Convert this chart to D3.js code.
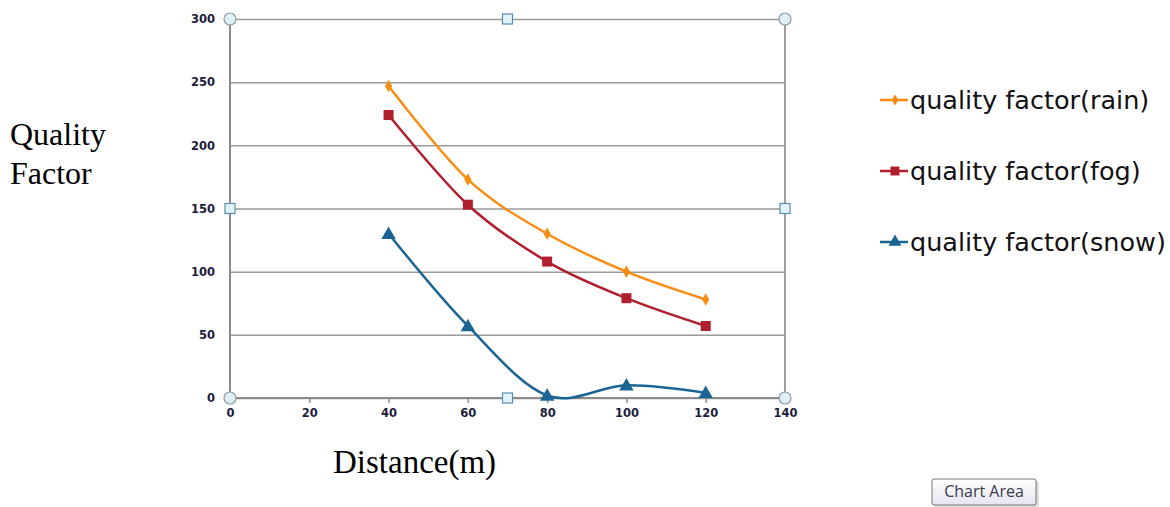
<!DOCTYPE html>
<html>
<head>
<meta charset="utf-8">
<script src="https://d3js.org/d3.v7.min.js"></script>
<style>
    body { margin: 0; background: white; }
    svg { background-color: white; display: block; }
    .grid line { stroke: #9a9a9a; stroke-width: 1.5; }
    .grid path { display: none; }
    .tick text { font: bold 11.5px "DejaVu Sans", sans-serif; fill: #1c1c3c; }
</style>
</head>
<body>
<script>
    // data
    var distance = [40, 60, 80, 100, 120];
    var rain = [247, 173, 130, 100, 78];
    var fog = [224, 153, 108, 79, 57];
    var snow = [130, 57, 2, 10, 4];
    var seriesNames = ["quality factor(rain)", "quality factor(fog)", "quality factor(snow)"];
    var seriesColors = ["#f98c12", "#b01f2e", "#1b6595"];
    var xTicks = [0, 20, 40, 60, 80, 100, 120, 140];
    var yTicks = [0, 50, 100, 150, 200, 250, 300];

    var SVGWidth = 1170, SVGHeight = 507;
    var plot = {left: 230, top: 19, right: 785, bottom: 398};

    var x = d3.scaleLinear().domain([0, 140]).range([plot.left, plot.right]);
    var y = d3.scaleLinear().domain([0, 300]).range([plot.bottom, plot.top]);

    var svg = d3.select("body").append("svg")
        .attr("width", SVGWidth)
        .attr("height", SVGHeight);

    // horizontal grid
    svg.append("g")
        .attr("class", "grid")
        .attr("transform", "translate(" + plot.left + ",0)")
        .call(d3.axisLeft(y).tickValues(yTicks).tickSize(-(plot.right - plot.left)).tickFormat(""));

    // y labels
    var yAxis = svg.append("g")
        .attr("transform", "translate(" + (plot.left - 13) + ",0)")
        .call(d3.axisLeft(y).tickValues(yTicks).tickSize(0).tickPadding(2));
    yAxis.select(".domain").remove();

    // x axis
    var xAxis = svg.append("g")
        .attr("transform", "translate(0," + plot.bottom + ")")
        .call(d3.axisBottom(x).tickValues(xTicks).tickSize(5).tickPadding(6));
    xAxis.select(".domain").remove();
    xAxis.selectAll(".tick line").attr("stroke", "#8a8a8a").attr("stroke-width", 1.5);

    // frame lines
    svg.append("line").attr("x1", x(0)).attr("x2", x(0)).attr("y1", y(0)).attr("y2", y(300))
        .attr("stroke", "#8a8a8a").attr("stroke-width", 2);
    svg.append("line").attr("x1", x(140)).attr("x2", x(140)).attr("y1", y(0)).attr("y2", y(300))
        .attr("stroke", "#a0a0a0").attr("stroke-width", 2);
    svg.append("line").attr("x1", x(0)).attr("x2", x(140)).attr("y1", y(0)).attr("y2", y(0))
        .attr("stroke", "#8a8a8a").attr("stroke-width", 2);

    // lines
    var line = d3.line()
        .x(function(d) { return x(d[0]); })
        .y(function(d) { return y(d[1]); })
        .curve(d3.curveCardinal.tension(0));

    var allSeries = [rain, fog, snow];
    var symbols = [d3.symbolDiamond, d3.symbolSquare, d3.symbolTriangle];
    var symbolSizes = [45, 100, 90];

    allSeries.forEach(function(vals, i) {
        var pts = distance.map(function(d, j) { return [d, vals[j]]; });
        svg.append("path")
            .datum(pts)
            .attr("d", line)
            .attr("fill", "none")
            .attr("stroke", seriesColors[i])
            .attr("stroke-width", 2.5);
        svg.selectAll(".m" + i)
            .data(pts)
            .enter().append("path")
            .attr("class", "m" + i)
            .attr("transform", function(d) { return "translate(" + x(d[0]) + "," + (y(d[1]) + (i == 2 ? 1 : 0)) + ")"; })
            .attr("d", d3.symbol().type(symbols[i]).size(symbolSizes[i]))
            .attr("fill", seriesColors[i]);
    });

    // selection handles
    var corners = [[0, 0], [0, 300], [140, 300], [140, 0]];
    var mids = [[70, 300], [70, 0], [0, 150], [140, 150]];
    svg.selectAll(".hc").data(corners).enter().append("circle")
        .attr("cx", function(d) { return x(d[0]); })
        .attr("cy", function(d) { return y(d[1]); })
        .attr("r", 6)
        .attr("fill", "#dff0f5").attr("stroke", "#8c9ca4").attr("stroke-width", 1.2);
    svg.selectAll(".hm").data(mids).enter().append("rect")
        .attr("x", function(d) { return x(d[0]) - 5; })
        .attr("y", function(d) { return y(d[1]) - 5; })
        .attr("width", 10).attr("height", 10)
        .attr("fill", "#e2f3fa").attr("stroke", "#5a8cb0").attr("stroke-width", 1.2);

    // axis titles
    svg.append("text").attr("x", 10).attr("y", 145)
        .style("font", "32px 'Liberation Serif', serif").text("Quality");
    svg.append("text").attr("x", 10).attr("y", 184)
        .style("font", "32px 'Liberation Serif', serif").text("Factor");
    svg.append("text").attr("x", 333).attr("y", 473)
        .style("font", "33px 'Liberation Serif', serif").text("Distance(m)");

    // legend
    var legend = svg.selectAll(".legend").data(seriesNames).enter().append("g")
        .attr("transform", function(d, i) { return "translate(880," + (100 + i * 71) + ")"; });
    legend.append("line").attr("x1", 0).attr("x2", 28).attr("y1", 0).attr("y2", 0)
        .attr("stroke", function(d, i) { return seriesColors[i]; }).attr("stroke-width", 2.5);
    legend.append("path")
        .attr("transform", "translate(15,0)")
        .attr("d", function(d, i) { return d3.symbol().type(symbols[i]).size(symbolSizes[i] * 0.8)(); })
        .attr("fill", function(d, i) { return seriesColors[i]; });
    legend.append("text").attr("x", 30).attr("y", 9)
        .style("font", "25.5px 'DejaVu Sans', sans-serif").attr("fill", "#111")
        .text(function(d) { return d; });

    // "Chart Area" tooltip
    var tip = svg.append("g").attr("transform", "translate(932,479)");
    var grad = svg.append("defs").append("linearGradient").attr("id", "tipg")
        .attr("x1", 0).attr("x2", 0).attr("y1", 0).attr("y2", 1);
    grad.append("stop").attr("offset", "0%").attr("stop-color", "#ffffff");
    grad.append("stop").attr("offset", "100%").attr("stop-color", "#e4e5f0");
    tip.append("rect").attr("x", 2).attr("y", 2).attr("width", 105).attr("height", 26)
        .attr("rx", 2).attr("fill", "#c8c8c8").attr("opacity", 0.6);
    tip.append("rect").attr("width", 104).attr("height", 26).attr("rx", 2)
        .attr("fill", "url(#tipg)").attr("stroke", "#767676");
    tip.append("text").attr("x", 52).attr("y", 18).attr("text-anchor", "middle")
        .style("font", "16px 'Open Sans', sans-serif").attr("fill", "#3a3a4a").text("Chart Area");
</script>
</body>
</html>
